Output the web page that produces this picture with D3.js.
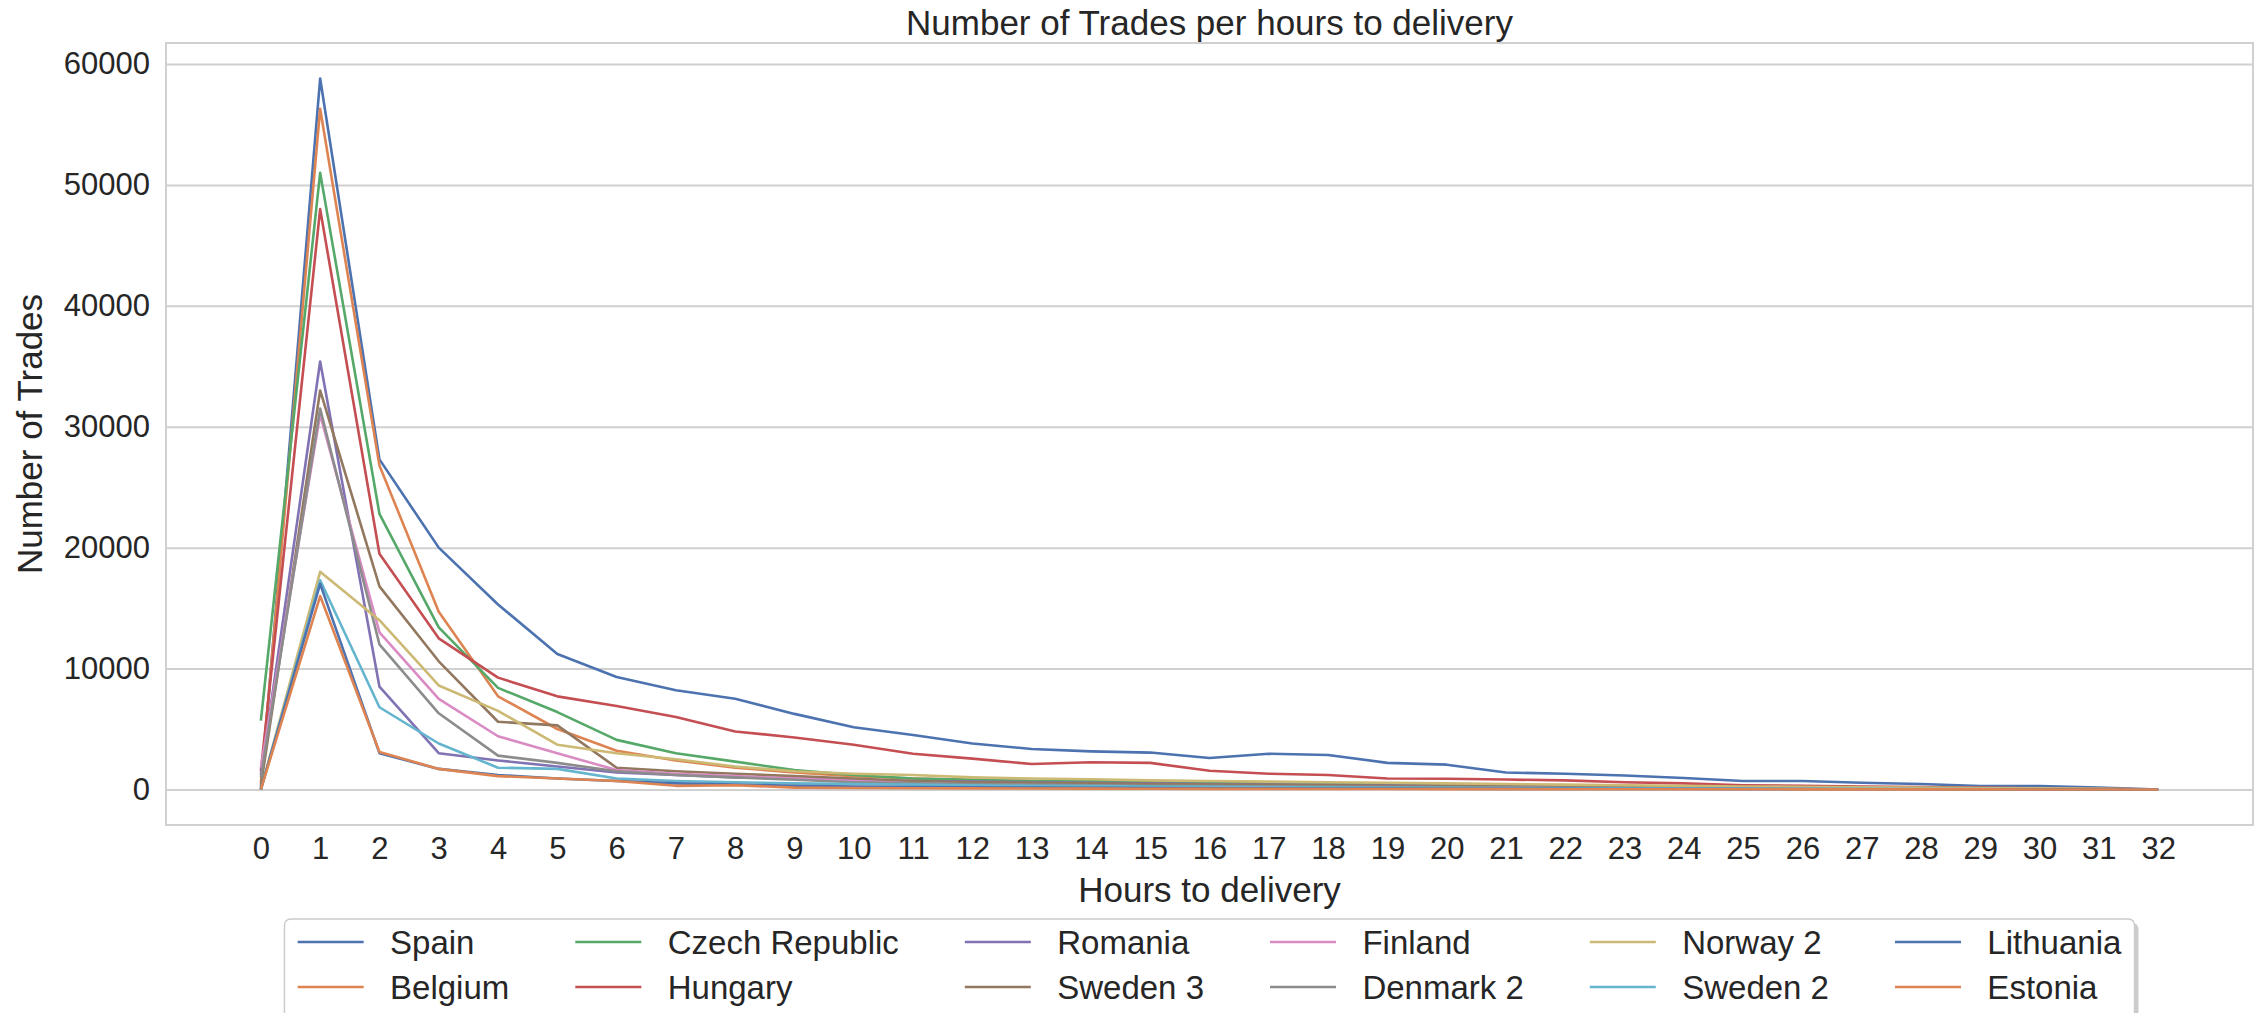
<!DOCTYPE html>
<html>
<head>
<meta charset="utf-8">
<script src="https://cdn.jsdelivr.net/npm/d3@7"></script>
<style>
    body { margin: 0; background: #ffffff; }
    #line-container { width: 2259px; height: 1013px; overflow: hidden; }
</style>
</head>
<body>
<div id="line-container"></div>
<script>
// Hours to delivery (x categories)
const hours = [0, 1, 2, 3, 4, 5, 6, 7, 8, 9, 10, 11, 12, 13, 14, 15, 16,
    17, 18, 19, 20, 21, 22, 23, 24, 25, 26, 27, 28, 29, 30, 31, 32];

const countries = ["Spain", "Belgium", "Czech Republic", "Hungary", "Romania", "Sweden 3",
    "Finland", "Denmark 2", "Norway 2", "Sweden 2", "Lithuania", "Estonia"];

// Number of trades per hour
const spain = [0, 58800, 27300, 20000, 15300, 11200, 9300, 8200, 7500, 6250, 5150, 4500, 3800, 3350, 3150, 3050, 2600, 2950, 2850, 2200, 2050, 1400, 1300, 1150, 950, 700, 700, 550, 450, 280, 280, 150, 0];
const belgium = [500, 56300, 26800, 14700, 7700, 5000, 3200, 2400, 1800, 1400, 1100, 900, 800, 700, 650, 600, 550, 500, 450, 400, 380, 350, 300, 280, 250, 200, 180, 150, 120, 100, 80, 50, 0];
const czech = [5700, 51000, 22800, 13400, 8400, 6400, 4100, 3000, 2300, 1600, 1200, 900, 800, 700, 700, 600, 550, 500, 450, 400, 350, 300, 280, 250, 200, 180, 150, 120, 100, 80, 60, 40, 0];
const hungary = [1500, 48000, 19500, 12500, 9250, 7700, 6900, 6000, 4800, 4300, 3700, 2950, 2550, 2100, 2250, 2200, 1550, 1300, 1200, 900, 880, 820, 750, 600, 500, 350, 300, 250, 200, 150, 100, 50, 0];
const romania = [1200, 35400, 8500, 3000, 2400, 1900, 1400, 1200, 1000, 900, 800, 700, 650, 600, 550, 500, 450, 400, 380, 350, 300, 280, 250, 220, 200, 180, 150, 120, 100, 80, 60, 40, 0];
const sweden3 = [300, 33000, 16800, 10600, 5600, 5300, 1800, 1500, 1300, 1100, 900, 700, 600, 550, 500, 450, 400, 380, 350, 300, 280, 250, 220, 200, 180, 150, 120, 100, 80, 60, 50, 30, 0];
const finland = [1800, 31000, 13000, 7500, 4400, 3000, 1600, 1300, 1100, 900, 700, 500, 400, 350, 300, 250, 220, 200, 180, 150, 130, 110, 100, 90, 80, 70, 60, 50, 40, 30, 20, 10, 0];
const denmark2 = [1000, 31500, 12000, 6300, 2800, 2200, 1500, 1200, 1000, 800, 600, 500, 450, 400, 350, 300, 280, 250, 220, 200, 180, 160, 140, 120, 100, 90, 80, 70, 60, 50, 40, 20, 0];
const norway2 = [0, 18000, 14000, 8600, 6500, 3700, 3000, 2500, 1900, 1500, 1300, 1200, 1000, 900, 850, 750, 700, 650, 600, 550, 500, 450, 400, 350, 300, 250, 220, 180, 150, 120, 100, 50, 0];
const sweden2 = [0, 17300, 6800, 3800, 1800, 1700, 900, 700, 600, 500, 450, 400, 350, 300, 280, 250, 220, 200, 180, 160, 140, 120, 100, 90, 80, 70, 60, 50, 40, 30, 20, 10, 0];
const lithuania = [0, 17000, 3000, 1700, 1200, 900, 700, 500, 400, 300, 250, 200, 180, 150, 130, 120, 100, 90, 80, 70, 60, 50, 45, 40, 35, 30, 25, 20, 15, 10, 5, 0, 0];
const estonia = [0, 16000, 3100, 1700, 1100, 900, 700, 300, 350, 150, 120, 100, 90, 80, 70, 60, 50, 45, 40, 35, 30, 25, 20, 18, 15, 12, 10, 8, 6, 4, 2, 0, 0];

const yTicks = [0, 10000, 20000, 30000, 40000, 50000, 60000];

const seriesValues = [spain, belgium, czech, hungary, romania, sweden3,
    finland, denmark2, norway2, sweden2, lithuania, estonia];

function renderLineChart() {
    const container = document.getElementById("line-container");

    const width = 2259;
    const height = 1013;
    const marginTop = 43;
    const marginRight = 6;
    const marginBottom = 188;
    const marginLeft = 166;
    const font = "Liberation Sans, Arial, sans-serif";
    const textColor = "#262626";
    const gridColor = "#d0d0d0";

    const svg = d3.create("svg")
        .attr("viewBox", [0, 0, width, height])
        .attr("width", width)
        .attr("height", height)
        .style("background", "#ffffff");

    const series = countries.map((name, i) => ({
        name: name,
        values: hours.map((h, j) => ({ hour: h, value: seriesValues[i][j] }))
    }));

    // matplotlib style 5% margins
    const xPad = (d3.max(hours) - d3.min(hours)) * 0.05;
    const yMax = d3.max(seriesValues, s => d3.max(s));
    const yPad = yMax * 0.05;

    const x = d3.scaleLinear([d3.min(hours) - xPad, d3.max(hours) + xPad], [marginLeft, width - marginRight]);
    const y = d3.scaleLinear([-yPad, yMax + yPad], [height - marginBottom, marginTop]);

    // seaborn "deep" palette
    const color = d3.scaleOrdinal()
        .domain(countries)
        .range(["#4C72B0", "#DD8452", "#55A868", "#C44E52", "#8172B3", "#937860",
            "#DA8BC3", "#8C8C8C", "#CCB974", "#64B5CD", "#4C72B0", "#DD8452"]);

    // Horizontal grid
    svg.append("g")
        .attr("transform", `translate(${marginLeft},0)`)
        .call(d3.axisLeft(y).tickValues(yTicks).tickSize(-(width - marginLeft - marginRight)).tickFormat(""))
        .call(g => g.select(".domain").remove())
        .call(g => g.selectAll("line").attr("stroke", gridColor).attr("stroke-width", 2));

    // Frame
    svg.append("rect")
        .attr("x", marginLeft)
        .attr("y", marginTop)
        .attr("width", width - marginLeft - marginRight)
        .attr("height", height - marginTop - marginBottom)
        .attr("fill", "none")
        .attr("stroke", gridColor)
        .attr("stroke-width", 2);

    // Y tick labels
    svg.append("g")
        .attr("transform", `translate(${marginLeft},0)`)
        .call(d3.axisLeft(y).tickValues(yTicks).tickSize(0).tickPadding(16).tickFormat(d3.format("d")))
        .call(g => g.select(".domain").remove())
        .call(g => g.selectAll("text")
            .attr("font-family", font)
            .attr("font-size", "31px")
            .attr("fill", textColor));

    // X tick labels
    svg.append("g")
        .attr("transform", `translate(0,${height - marginBottom})`)
        .call(d3.axisBottom(x).tickValues(hours).tickSize(0).tickPadding(12).tickFormat(d3.format("d")))
        .call(g => g.select(".domain").remove())
        .call(g => g.selectAll("text")
            .attr("font-family", font)
            .attr("font-size", "31px")
            .attr("fill", textColor));

    // Lines
    const line = d3.line()
        .x(d => x(d.hour))
        .y(d => y(d.value));

    svg.append("g")
        .selectAll("path")
        .data(series)
        .join("path")
        .attr("fill", "none")
        .attr("stroke", d => color(d.name))
        .attr("stroke-width", 2.6)
        .attr("stroke-linejoin", "round")
        .attr("d", d => line(d.values));

    // Title and axis labels
    svg.append("text")
        .attr("x", (marginLeft + width - marginRight) / 2)
        .attr("y", 35)
        .attr("text-anchor", "middle")
        .attr("font-family", font)
        .attr("font-size", "35px")
        .attr("fill", textColor)
        .text("Number of Trades per hours to delivery");

    svg.append("text")
        .attr("x", (marginLeft + width - marginRight) / 2)
        .attr("y", 902)
        .attr("text-anchor", "middle")
        .attr("font-family", font)
        .attr("font-size", "35px")
        .attr("fill", textColor)
        .text("Hours to delivery");

    svg.append("text")
        .attr("transform", `translate(42,${(marginTop + height - marginBottom) / 2}) rotate(-90)`)
        .attr("text-anchor", "middle")
        .attr("font-family", font)
        .attr("font-size", "35px")
        .attr("fill", textColor)
        .text("Number of Trades");

    // Legend: 6 columns x 2 rows, column-major like matplotlib
    const fs = 33;
    const handleLen = 2 * fs;
    const handlePad = 0.8 * fs;
    const colSpacing = 2 * fs;
    const borderPad = 0.4 * fs;
    const rowGap = 45;
    const nRows = 2;
    const nCols = Math.ceil(countries.length / nRows);

    const legend = svg.append("g");
    const shadow = legend.append("rect");
    const box = legend.append("rect");

    const items = legend.selectAll("g.item")
        .data(countries)
        .join("g")
        .attr("class", "item");

    items.append("text")
        .attr("font-family", font)
        .attr("font-size", fs + "px")
        .attr("fill", textColor)
        .attr("dy", "0.35em")
        .text(d => d);

    container.appendChild(svg.node());

    // measure column widths
    const textWidths = items.select("text").nodes().map(n => n.getComputedTextLength());
    const colWidths = d3.range(nCols).map(c =>
        handleLen + handlePad + d3.max(textWidths.slice(c * nRows, c * nRows + nRows)));
    const innerWidth = d3.sum(colWidths) + colSpacing * (nCols - 1);
    const boxWidth = innerWidth + 2 * borderPad;
    const boxLeft = (marginLeft + width - marginRight) / 2 - boxWidth / 2;
    const boxTop = 919;
    const firstRow = 942;

    const colX = [];
    let cx = boxLeft + borderPad;
    colWidths.forEach(w => { colX.push(cx); cx += w + colSpacing; });

    items.attr("transform", (d, i) =>
        `translate(${colX[Math.floor(i / nRows)]},${firstRow + (i % nRows) * rowGap})`);

    items.append("line")
        .attr("x1", 0)
        .attr("x2", handleLen)
        .attr("stroke", d => color(d))
        .attr("stroke-width", 2.6);

    items.select("text").attr("x", handleLen + handlePad);

    shadow
        .attr("x", boxLeft + 4)
        .attr("y", boxTop + 4)
        .attr("width", boxWidth)
        .attr("height", 110)
        .attr("rx", 6)
        .attr("fill", "#9a9a9a")
        .attr("opacity", 0.5);

    box
        .attr("x", boxLeft)
        .attr("y", boxTop)
        .attr("width", boxWidth)
        .attr("height", 110)
        .attr("rx", 6)
        .attr("fill", "#ffffff")
        .attr("stroke", "#cccccc")
        .attr("stroke-width", 1.5);
}

renderLineChart();
</script>
</body>
</html>
